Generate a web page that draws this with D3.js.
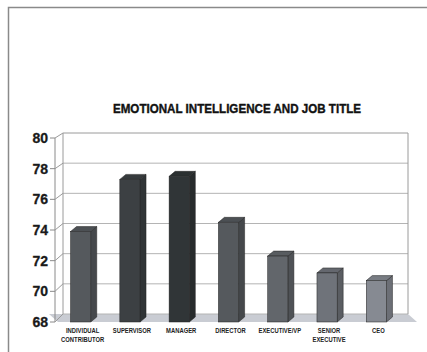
<!DOCTYPE html>
<html>
<head>
<meta charset="utf-8">
<script src="https://cdn.jsdelivr.net/npm/d3@7"></script>
<style>
  body { margin: 0; background: #fff; }
  svg { display: block; }
</style>
</head>
<body>
<svg width="427" height="352"></svg>
<script>
const categories = ['INDIVIDUAL CONTRIBUTOR', 'SUPERVISOR', 'MANAGER', 'DIRECTOR', 'EXECUTIVE/VP', 'SENIOR EXECUTIVE', 'CEO']
const labelLines = [['INDIVIDUAL', 'CONTRIBUTOR'], ['SUPERVISOR'], ['MANAGER'], ['DIRECTOR'], ['EXECUTIVE/VP'], ['SENIOR', 'EXECUTIVE'], ['CEO']]
const scores = [73.9, 77.3, 77.5, 74.5, 72.3, 71.2, 70.7]
const yTicks = [68, 70, 72, 74, 76, 78, 80]
const barColors = ['#55595d', '#3c4043', '#303537', '#55595d', '#62666b', '#6f737a', '#868a92']

const svg = d3.select('svg')
const depthX = 7
const barDX = 6
const barDY = -5

// front and back scales (the chart is a little 3D box)
const x = d3.scaleBand().domain(categories).range([56, 401]).paddingInner(0.59).paddingOuter(0.295)
const yFront = d3.scaleLinear().domain([68, 80]).range([322, 138])
const yBack = d3.scaleLinear().domain([68, 80]).range([314, 133])
const xBackLeft = 56 + depthX
const xBackRight = 401 + depthX

// frame
svg.append('path')
   .attr('d', 'M8.5,352 L8.5,7.5 L427,7.5')
   .attr('fill', 'none')
   .attr('stroke', '#8a8a8a')
   .attr('stroke-width', 1.5)

svg.append('g')
   .attr('transform', 'translate(237,113) scale(0.86,1)')
   .append('text')
   .attr('text-anchor', 'middle')
   .attr('font-family', '"Liberation Sans", Arial, sans-serif')
   .attr('font-weight', 'bold')
   .attr('font-size', 13.5)
   .attr('fill', '#111')
   .attr('stroke', '#111')
   .attr('stroke-width', 0.4)
   .text('EMOTIONAL INTELLIGENCE AND JOB TITLE')

// floor
svg.append('polygon')
   .attr('points', [[49, yBack(68)], [xBackRight, yBack(68)], [417, yFront(68)], [58, yFront(68)]].map(p => p.join(',')).join(' '))
   .attr('fill', '#c9ccd3')

// back wall gridlines
svg.append('g')
   .selectAll('line')
   .data(yTicks)
   .join('line')
   .attr('x1', xBackLeft)
   .attr('x2', xBackRight)
   .attr('y1', d => yBack(d))
   .attr('y2', d => yBack(d))
   .attr('stroke', d => d === 80 ? '#9a9a9a' : '#b4b4b4')
   .attr('stroke-width', 1)

svg.append('line')
   .attr('x1', xBackRight).attr('x2', xBackRight)
   .attr('y1', yBack(80)).attr('y2', yBack(68))
   .attr('stroke', '#9a9a9a')
svg.append('line')
   .attr('x1', xBackLeft).attr('x2', xBackLeft)
   .attr('y1', yBack(80)).attr('y2', yBack(68))
   .attr('stroke', '#9a9a9a')

// side wall: front axis, ticks and diagonals
const axisX = 55
svg.append('line')
   .attr('x1', axisX).attr('x2', axisX)
   .attr('y1', yFront(80)).attr('y2', yFront(68))
   .attr('stroke', '#8a8a8a')

const side = svg.append('g')
side.selectAll('.diag')
    .data(yTicks)
    .join('line')
    .attr('class', 'diag')
    .attr('x1', axisX).attr('x2', xBackLeft)
    .attr('y1', d => yFront(d)).attr('y2', d => yBack(d))
    .attr('stroke', '#9a9a9a')
side.selectAll('.tick')
    .data(yTicks)
    .join('line')
    .attr('class', 'tick')
    .attr('x1', axisX - 5).attr('x2', axisX)
    .attr('y1', d => yFront(d)).attr('y2', d => yFront(d))
    .attr('stroke', '#8a8a8a')
side.selectAll('text')
    .data(yTicks)
    .join('text')
    .attr('x', 48)
    .attr('y', d => yFront(d) + 5)
    .attr('text-anchor', 'end')
    .attr('font-family', '"Liberation Sans", Arial, sans-serif')
    .attr('font-weight', 'bold')
    .attr('font-size', 14)
    .attr('fill', '#1a1a1a')
    .attr('stroke', '#1a1a1a')
    .attr('stroke-width', 0.3)
    .text(d => d)

// bars
const bars = svg.append('g')
  .selectAll('g')
  .data(scores)
  .join('g')

bars.each(function (d, i) {
  const g = d3.select(this)
  const x0 = x(categories[i])
  const x1 = x0 + x.bandwidth()
  const yt = yFront(d)
  const yb = yFront(68)
  const c = d3.color(barColors[i])
  // side
  g.append('polygon')
   .attr('points', [[x1, yt], [x1 + barDX, yt + barDY], [x1 + barDX, yb + barDY], [x1, yb]].map(p => p.join(',')).join(' '))
   .attr('fill', c.darker(0.6))
   .attr('stroke', '#222').attr('stroke-width', 0.5)
  // top
  g.append('polygon')
   .attr('points', [[x0, yt], [x0 + barDX, yt + barDY], [x1 + barDX, yt + barDY], [x1, yt]].map(p => p.join(',')).join(' '))
   .attr('fill', c.darker(0.3))
   .attr('stroke', '#222').attr('stroke-width', 0.5)
  // front
  g.append('rect')
   .attr('x', x0)
   .attr('y', yt)
   .attr('width', x.bandwidth())
   .attr('height', yb - yt)
   .attr('fill', c)
   .attr('stroke', '#222').attr('stroke-width', 0.5)
})

// category labels, squeezed to look condensed
svg.append('g')
   .selectAll('g')
   .data(categories)
   .join('g')
   .attr('transform', d => `translate(${x(d) + x.bandwidth() / 2 + 2},333) scale(0.78,1)`)
   .append('text')
   .attr('text-anchor', 'middle')
   .attr('font-family', '"Liberation Sans", Arial, sans-serif')
   .attr('font-weight', 'bold')
   .attr('font-size', 7.5)
   .attr('fill', '#222')
   .each(function (d, i) {
     const t = d3.select(this)
     labelLines[i].forEach((line, k) => {
       t.append('tspan')
        .attr('x', 0)
        .attr('dy', k === 0 ? 0 : 9)
        .text(line)
     })
   })
</script>
</body>
</html>
